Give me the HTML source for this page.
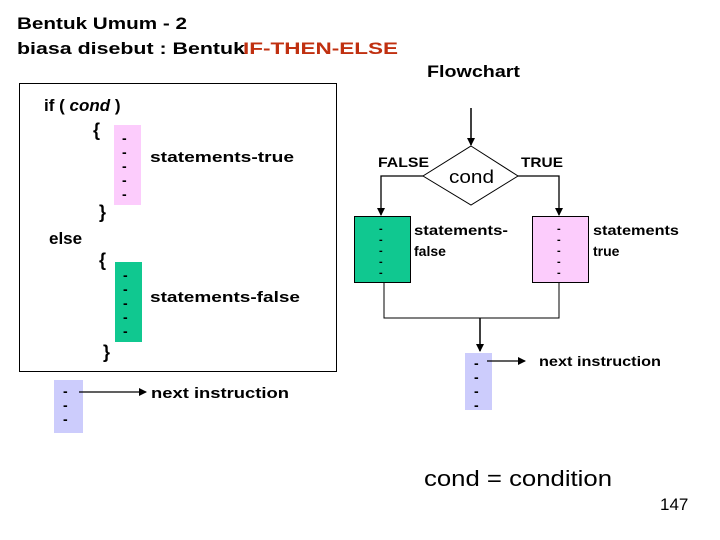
<!DOCTYPE html>
<html><head><meta charset="utf-8"><style>
html,body{margin:0;padding:0;background:#fff;}
svg{display:block;}
text{font-family:"Liberation Sans",sans-serif;font-weight:bold;fill:#000;}
</style></head><body>
<svg width="720" height="540" viewBox="0 0 720 540" xmlns="http://www.w3.org/2000/svg">
<defs><marker id="a" markerWidth="8" markerHeight="8" refX="7" refY="4" orient="auto" markerUnits="userSpaceOnUse"><path d="M0,0 L8,4 L0,8 z" fill="#000"/></marker></defs>
<text x="17" y="29" font-size="17" textLength="170" lengthAdjust="spacingAndGlyphs">Bentuk Umum - 2</text>
<text x="17" y="54" font-size="17" textLength="228" lengthAdjust="spacingAndGlyphs">biasa disebut : Bentuk</text>
<text x="243" y="54" font-size="17" textLength="155" lengthAdjust="spacingAndGlyphs" style="fill:#c03010">IF-THEN-ELSE</text>
<text x="427" y="77" font-size="17" textLength="93" lengthAdjust="spacingAndGlyphs">Flowchart</text>
<rect x="19.5" y="83.5" width="317" height="288" fill="none" stroke="#000" stroke-width="1"/>
<text x="44" y="111" font-size="17">if ( <tspan font-style="italic">cond</tspan> )</text>
<text x="93" y="136" font-size="18">{</text>
<rect x="114" y="125" width="27" height="80" fill="#fcccfc"/>
<text x="122" y="143" font-size="14">-</text><text x="122" y="157" font-size="14">-</text><text x="122" y="171" font-size="14">-</text><text x="122" y="185" font-size="14">-</text><text x="122" y="199" font-size="14">-</text>
<text x="150" y="162" font-size="15" textLength="144" lengthAdjust="spacingAndGlyphs">statements-true</text>
<text x="99" y="218" font-size="18">}</text>
<text x="49" y="244" font-size="17">else</text>
<text x="99" y="266" font-size="18">{</text>
<rect x="115" y="262" width="27" height="80" fill="#10c890"/>
<text x="123" y="280" font-size="14">-</text><text x="123" y="294" font-size="14">-</text><text x="123" y="308" font-size="14">-</text><text x="123" y="322" font-size="14">-</text><text x="123" y="336" font-size="14">-</text>
<text x="150" y="302" font-size="15" textLength="150" lengthAdjust="spacingAndGlyphs">statements-false</text>
<text x="103" y="358" font-size="18">}</text>
<rect x="54" y="380" width="29" height="53" fill="#ccccfc"/>
<text x="63" y="396" font-size="14">-</text><text x="63" y="410" font-size="14">-</text><text x="63" y="424" font-size="14">-</text>
<line x1="79" y1="392" x2="146" y2="392" stroke="#000" stroke-width="1.3" marker-end="url(#a)"/>
<text x="151" y="398" font-size="15" textLength="138" lengthAdjust="spacingAndGlyphs">next instruction</text>
<!-- flowchart -->
<line x1="471" y1="108" x2="471" y2="145" stroke="#000" stroke-width="1.5" marker-end="url(#a)"/>
<polygon points="471,146 518,176 471,205 423,176" fill="#fff" stroke="#000" stroke-width="1"/>
<text x="449" y="183" font-size="18" font-weight="normal" style="font-weight:normal" textLength="45" lengthAdjust="spacingAndGlyphs">cond</text>
<text x="378" y="167" font-size="14" textLength="51" lengthAdjust="spacingAndGlyphs">FALSE</text>
<text x="521" y="167" font-size="14" textLength="42" lengthAdjust="spacingAndGlyphs">TRUE</text>
<polyline points="423,176 381,176 381,215" fill="none" stroke="#000" stroke-width="1.3" marker-end="url(#a)"/>
<polyline points="518,176 559,176 559,215" fill="none" stroke="#000" stroke-width="1.3" marker-end="url(#a)"/>
<rect x="354.5" y="216.5" width="56" height="66" fill="#10c890" stroke="#000" stroke-width="1"/>
<rect x="532.5" y="216.5" width="56" height="66" fill="#fcccfc" stroke="#000" stroke-width="1"/>
<g font-size="11"><text x="379" y="232">-</text><text x="379" y="243">-</text><text x="379" y="254">-</text><text x="379" y="265">-</text><text x="379" y="276">-</text>
<text x="557" y="232">-</text><text x="557" y="243">-</text><text x="557" y="254">-</text><text x="557" y="265">-</text><text x="557" y="276">-</text></g>
<text x="414" y="235" font-size="14" textLength="94" lengthAdjust="spacingAndGlyphs">statements-</text>
<text x="414" y="256" font-size="14">false</text>
<text x="593" y="235" font-size="14" textLength="86" lengthAdjust="spacingAndGlyphs">statements</text>
<text x="593" y="256" font-size="14">true</text>
<polyline points="384,283 384,318 559,318 559,283" fill="none" stroke="#000" stroke-width="1"/>
<line x1="480" y1="318" x2="480" y2="351" stroke="#000" stroke-width="1.5" marker-end="url(#a)"/>
<rect x="465" y="353" width="27" height="57" fill="#ccccfc"/>
<text x="474" y="368" font-size="14">-</text><text x="474" y="382" font-size="14">-</text><text x="474" y="396" font-size="14">-</text><text x="474" y="410" font-size="14">-</text>
<line x1="487" y1="361" x2="525" y2="361" stroke="#000" stroke-width="1.3" marker-end="url(#a)"/>
<text x="539" y="366" font-size="14" textLength="122" lengthAdjust="spacingAndGlyphs">next instruction</text>
<text x="424" y="486" font-size="22" style="font-weight:normal" textLength="188" lengthAdjust="spacingAndGlyphs">cond = condition</text>
<text x="660" y="510" font-size="17" style="font-weight:normal">147</text>
</svg>
</body></html>
